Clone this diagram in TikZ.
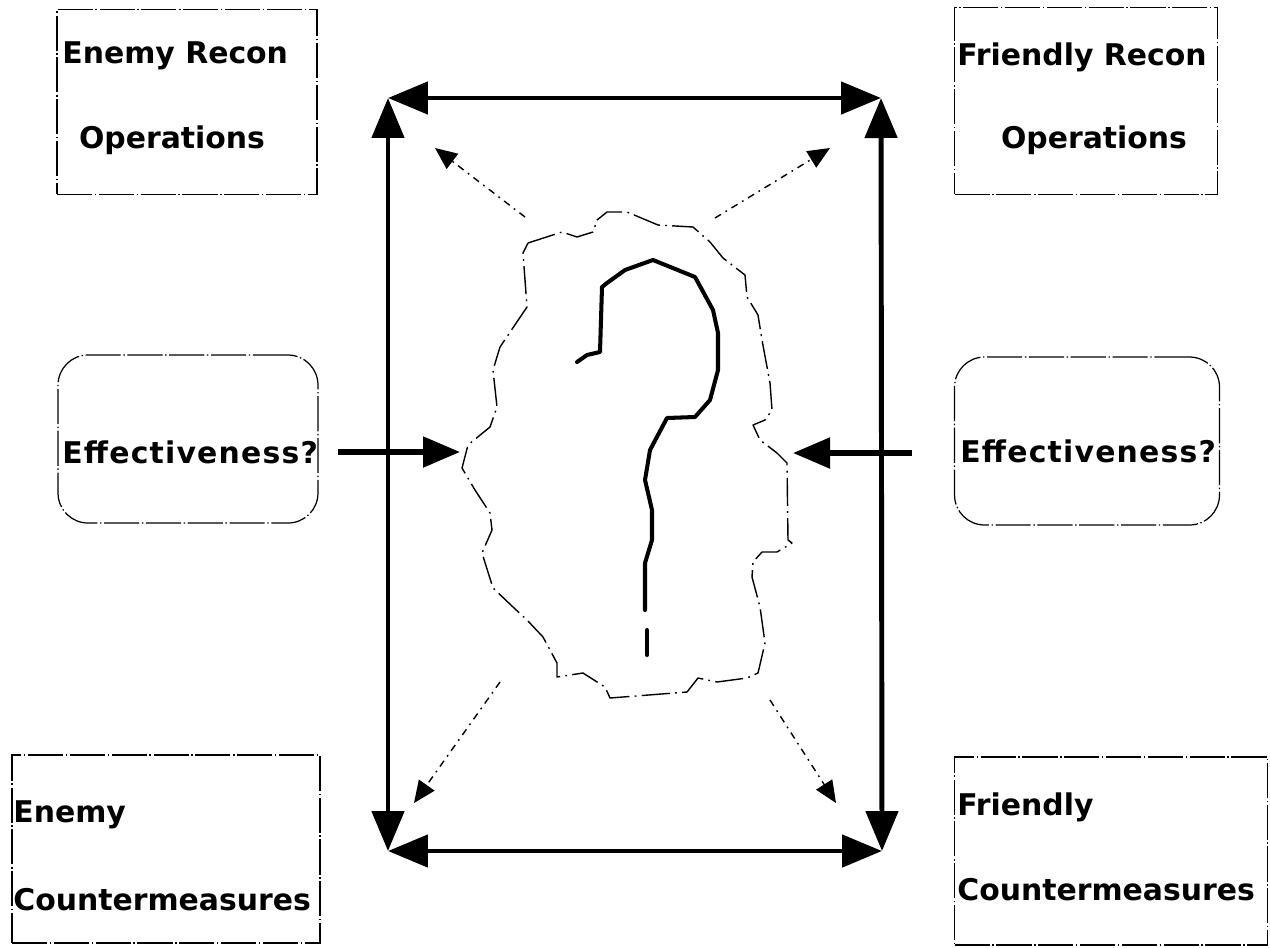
\documentclass[tikz,border=0pt]{standalone}
\usepackage{fontspec}
\newfontfamily\labelfont{DejaVu Sans}
\newfontfamily\widelabelfont{DejaVu Sans}[LetterSpace=4]
\usetikzlibrary{arrows.meta}

\tikzset{
  boxline/.style={draw, line width=0.7pt, dash pattern=on 20pt off 1.5pt on 0.8pt off 1.5pt, inner sep=0pt},
  roundbox/.style={boxline, rounded corners=0.6cm},
  lbl/.style={font=\labelfont\bfseries\fontsize{17}{20}\selectfont, inner sep=0pt},
  widelbl/.style={lbl, font=\widelabelfont\bfseries\fontsize{17}{20}\selectfont},
  frame/.style={line width=2.8pt, {Triangle[length=0.8cm,width=0.64cm]}-{Triangle[length=0.8cm,width=0.64cm]}},
  push/.style={line width=3pt, -{Triangle[length=0.74cm,width=0.6cm]}},
  spray/.style={line width=0.8pt, dash pattern=on 4pt off 3pt on 1pt off 3pt, -{Triangle[length=0.44cm,width=0.38cm]}},
  cloudline/.style={line width=0.8pt, dash pattern=on 16pt off 3pt on 1pt off 3pt, line join=round},
  hook/.style={line width=2.3pt, line join=round, line cap=round}
}

\begin{document}
\begin{tikzpicture}[x=0.02cm, y=-0.02cm]
		%%%%% START %%%%%
		\useasboundingbox (0,0) rectangle (1270,947);
		
		% boxes
		\node[boxline, minimum width=5.2cm, minimum height=3.7cm] (enemyRecon) at (187,102) {};
		\node[boxline, minimum width=5.26cm, minimum height=3.74cm] (friendRecon) at (1086,101) {};
		\node[roundbox, minimum width=5.2cm, minimum height=3.36cm] (enemyEff) at (188,439) {};
		\node[roundbox, minimum width=5.3cm, minimum height=3.36cm] (friendEff) at (1087,441) {};
		\node[boxline, minimum width=6.16cm, minimum height=3.76cm] (enemyCM) at (166,849) {};
		\node[boxline, minimum width=6.26cm, minimum height=3.76cm] (friendCM) at (1111,851) {};
		
		% labels
		\node[lbl, anchor=base west] (enemyReconA) at (62,63) {Enemy Recon};
		\node[lbl, anchor=base] (enemyReconB) at (172,148) {Operations};
		\node[lbl, anchor=base west] (friendReconA) at (957,65) {Friendly Recon};
		\node[lbl, anchor=base] (friendReconB) at (1094,148) {Operations};
		\node[widelbl, anchor=base west] (enemyEffText) at (62,463) {Effectiveness?};
		\node[widelbl, anchor=base west] (friendEffText) at (960,462) {Effectiveness?};
		\node[lbl, anchor=base west] (enemyCMA) at (13,822) {Enemy};
		\node[lbl, anchor=base west] (enemyCMB) at (13,910) {Countermeasures};
		\node[lbl, anchor=base west] (friendCMA) at (957,815) {Friendly};
		\node[lbl, anchor=base west] (friendCMB) at (957,900) {Countermeasures};
		
		% frame
		\coordinate (cornerTL) at (388,98);
		\coordinate (cornerTR) at (881,98);
		\coordinate (cornerBL) at (388,851);
		\coordinate (cornerBR) at (882,851);
		\draw[frame] (cornerTL) -- (cornerTR);
		\draw[frame] (cornerBL) -- (cornerBR);
		\draw[frame] (cornerTL) -- (cornerBL);
		\draw[frame] (cornerTR) -- (cornerBR);
		
		% cloud
		\draw[cloudline] (528,243) -- (562,232) -- (577,237) -- (593,232) -- (597,220) -- (607,212)
			-- (627,212) -- (658,225) -- (693,227) -- (710,242) -- (723,258) -- (745,275)
			-- (747,297) -- (758,315) -- (762,340) -- (770,383) -- (772,410) -- (765,420)
			-- (753,425) -- (760,440) -- (777,453) -- (787,463) -- (788,540) -- (792,543)
			-- (777,552) -- (762,552) -- (753,562) -- (752,577) -- (760,607) -- (765,643)
			-- (758,673) -- (747,678) -- (717,682) -- (698,678) -- (687,692) -- (610,698)
			-- (605,687) -- (583,673) -- (557,677) -- (557,663) -- (543,637) -- (527,620)
			-- (513,607) -- (493,588) -- (482,553) -- (492,530) -- (490,513) -- (475,490)
			-- (462,468) -- (468,445) -- (490,427) -- (497,407) -- (493,370) -- (500,347)
			-- (527,307) -- (523,253) -- cycle;
		
		% question mark
		\draw[hook] (577,362) -- (587,355) -- (600,352) -- (602,287) -- (607,283) -- (625,270)
			-- (653,260) -- (695,277) -- (713,310) -- (718,333) -- (718,370) -- (710,400)
			-- (695,417) -- (667,418) -- (650,450) -- (645,480) -- (652,510) -- (652,540)
			-- (645,563) -- (645,610);
		\draw[hook] (647,630) -- (647,655);
		
		% spray arrows
		\coordinate (sprayTL) at (525,217);
		\coordinate (sprayTR) at (715,218);
		\coordinate (sprayBL) at (500,682);
		\coordinate (sprayBR) at (770,700);
		\coordinate (tipTL) at (435,148);
		\coordinate (tipTR) at (830,148);
		\coordinate (tipBL) at (414,803);
		\coordinate (tipBR) at (836,803);
		\draw[spray] (sprayTL) -- (tipTL);
		\draw[spray] (sprayTR) -- (tipTR);
		\draw[spray] (sprayBL) -- (tipBL);
		\draw[spray] (sprayBR) -- (tipBR);
		
		% push arrows
		\coordinate (pushL) at (338,452);
		\coordinate (pushLend) at (460,452);
		\coordinate (pushR) at (912,453);
		\coordinate (pushRend) at (793,453);
		\draw[push] (pushL) -- (pushLend);
		\draw[push] (pushR) -- (pushRend);
		%%%%% END %%%%%
	\end{tikzpicture}
\end{document}
